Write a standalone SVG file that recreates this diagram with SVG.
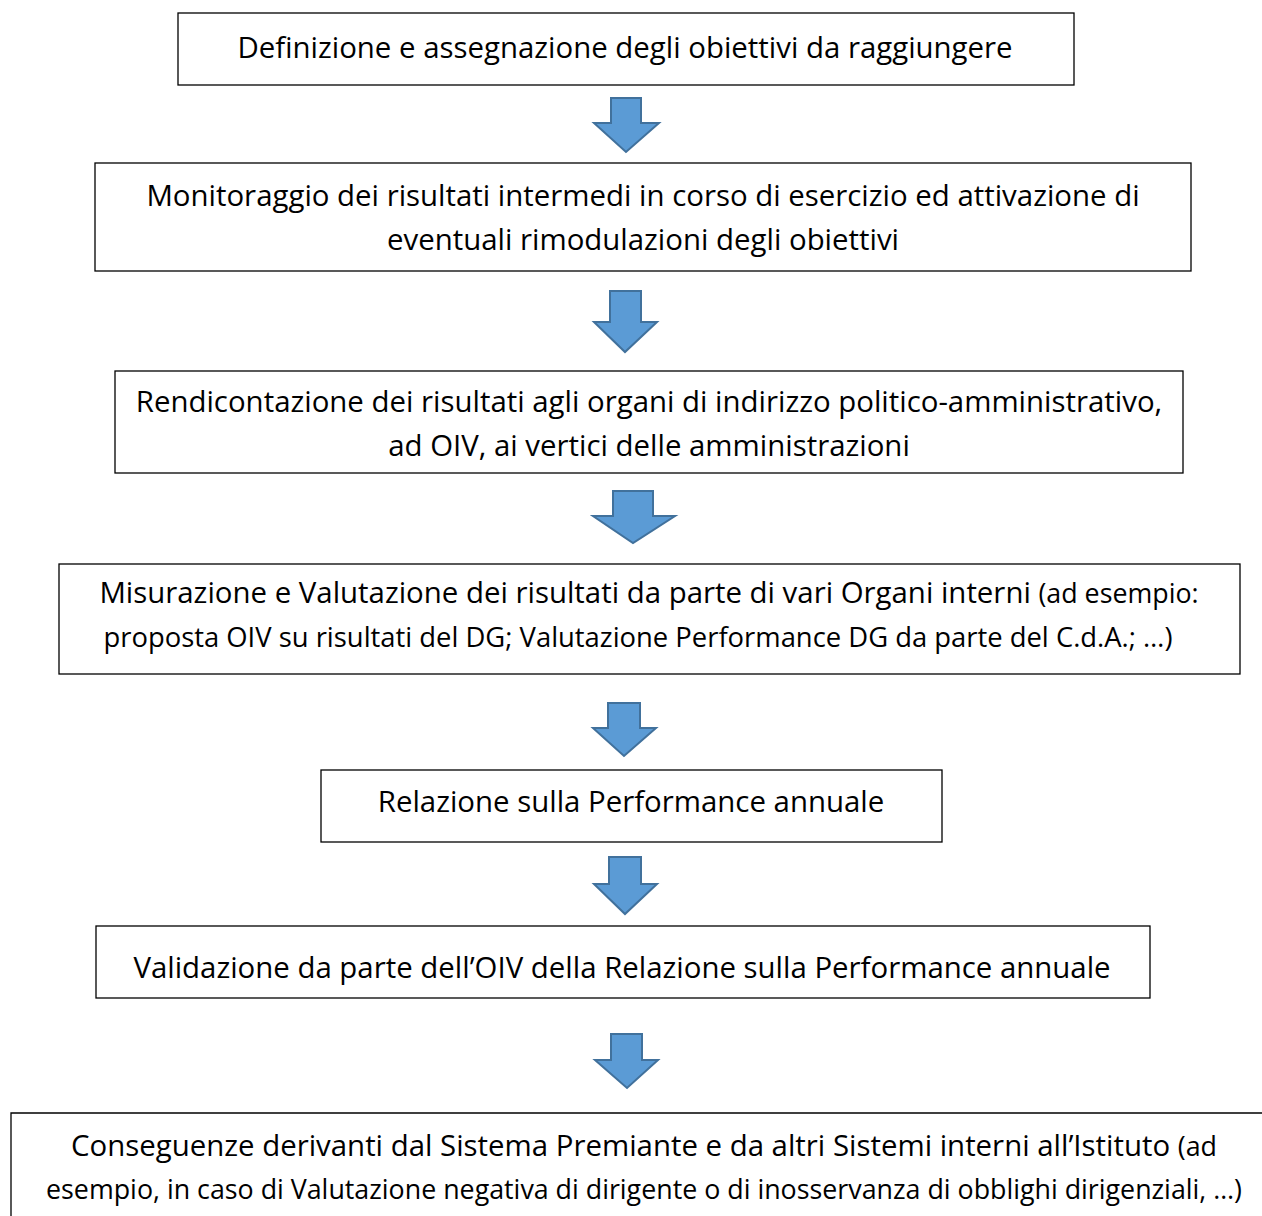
<svg xmlns="http://www.w3.org/2000/svg" width="1262" height="1216" viewBox="0 0 1262 1216">
<style>
.box{fill:#ffffff;stroke:#000000;stroke-width:1.3}
.t{font-family:"Open Sans","Noto Sans","DejaVu Sans",sans-serif;font-size:29.4px;fill:#000000;text-anchor:middle}
.s{font-size:26.8px}
.arr{fill:#5b9bd5;stroke:#41719c;stroke-width:2;stroke-linejoin:miter}
</style>
<rect width="1262" height="1216" fill="#ffffff"/>
<g id="connectors">
<polygon class="arr" points="611,98 641,98 641,123 659,123 626,152 594,123 611,123"/>
<polygon class="arr" points="610,291 641,291 641,322 657,322 625,352 594,322 610,322"/>
<polygon class="arr" points="613,491 653,491 653,516 675,516 633,543 593,516 613,516"/>
<polygon class="arr" points="608,703 640,703 640,728 656,728 624,756 593,728 608,728"/>
<polygon class="arr" points="609,857 641,857 641,884 657,884 625,914 594,884 609,884"/>
<polygon class="arr" points="611,1034 642,1034 642,1060 658,1060 627,1088 595,1060 611,1060"/>
</g>
<g id="n1">
<rect class="box" x="178" y="13" width="896" height="72"/>
<text class="t" x="625" y="58">Definizione e assegnazione degli obiettivi da raggiungere</text>
</g>
<g id="n2">
<rect class="box" x="95" y="163" width="1096" height="108"/>
<text class="t" x="643" y="206">Monitoraggio dei risultati intermedi in corso di esercizio ed attivazione di</text>
<text class="t" x="643" y="250">eventuali rimodulazioni degli obiettivi</text>
</g>
<g id="n3">
<rect class="box" x="115" y="371" width="1068" height="102"/>
<text class="t" x="649" y="412">Rendicontazione dei risultati agli organi di indirizzo politico-amministrativo,</text>
<text class="t" x="649" y="456">ad OIV, ai vertici delle amministrazioni</text>
</g>
<g id="n4">
<rect class="box" x="59" y="564" width="1181" height="110"/>
<text class="t" x="649" y="603">Misurazione e Valutazione dei risultati da parte di vari Organi interni <tspan class="s">(ad esempio:</tspan></text>
<text class="t s" x="638" y="647" style="font-size:27.4px">proposta OIV su risultati del DG; Valutazione Performance DG da parte del C.d.A.; …)</text>
</g>
<g id="n5">
<rect class="box" x="321" y="770" width="621" height="72"/>
<text class="t" x="631" y="812">Relazione sulla Performance annuale</text>
</g>
<g id="n6">
<rect class="box" x="96" y="926" width="1054" height="72"/>
<text class="t" x="622" y="978">Validazione da parte dell’OIV della Relazione sulla Performance annuale</text>
</g>
<g id="n7">
<path class="box" d="M1262,1113 H11 V1216"/>
<text class="t" x="644" y="1156">Conseguenze derivanti dal Sistema Premiante e da altri Sistemi interni all’Istituto <tspan class="s">(ad</tspan></text>
<text class="t s" x="644" y="1199">esempio, in caso di Valutazione negativa di dirigente o di inosservanza di obblighi dirigenziali, …)</text>
</g>
</svg>
